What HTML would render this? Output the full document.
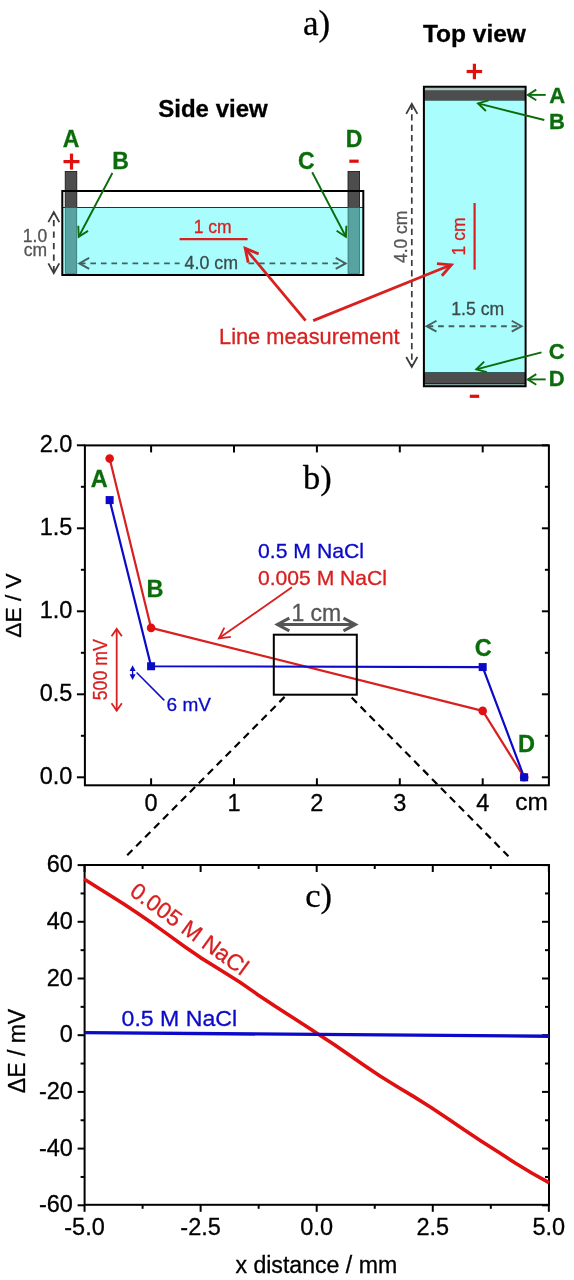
<!DOCTYPE html>
<html><head><meta charset="utf-8"><style>
html,body{margin:0;padding:0;background:#fff;}
svg{display:block;will-change:transform;}
</style></head><body>
<svg width="574" height="1280" viewBox="0 0 574 1280">
<rect width="574" height="1280" fill="#fff"/>
<text x="303.00" y="34.80" font-family="Liberation Serif, serif" font-size="35" font-weight="normal" fill="#000" text-anchor="start" stroke="#000" stroke-width="0.3">a)</text>
<text x="213.00" y="116.70" font-family="Liberation Sans, sans-serif" font-size="23.5" font-weight="bold" fill="#000" text-anchor="middle" textLength="109.5" lengthAdjust="spacingAndGlyphs" stroke="#000" stroke-width="0.3">Side view</text>
<text x="474.40" y="41.80" font-family="Liberation Sans, sans-serif" font-size="23.5" font-weight="bold" fill="#000" text-anchor="middle" textLength="103" lengthAdjust="spacingAndGlyphs" stroke="#000" stroke-width="0.3">Top view</text>
<rect x="62.3" y="191" width="301" height="83.7" fill="#fff" stroke="none"/>
<rect x="63" y="207.5" width="300" height="67" fill="#aafdfd"/>
<line x1="63.00" y1="207.50" x2="363.00" y2="207.50" stroke="#0a3c3c" stroke-width="1" />
<rect x="65.2" y="171.5" width="11.6" height="36" fill="#4d4d4d" stroke="#111" stroke-width="0.8"/>
<rect x="65.2" y="207.5" width="11.6" height="66" fill="#58a2a2" stroke="#2a5a5a" stroke-width="0.6"/>
<rect x="348.0" y="171.5" width="11.6" height="36" fill="#4d4d4d" stroke="#111" stroke-width="0.8"/>
<rect x="348.0" y="207.5" width="11.6" height="66" fill="#58a2a2" stroke="#2a5a5a" stroke-width="0.6"/>
<rect x="62.3" y="191" width="301" height="84" fill="none" stroke="#000" stroke-width="2"/>
<text x="71.00" y="146.80" font-family="Liberation Sans, sans-serif" font-size="23" font-weight="bold" fill="#0a6c0a" text-anchor="middle" stroke="#0a6c0a" stroke-width="0.3" >A</text>
<text x="354.00" y="146.80" font-family="Liberation Sans, sans-serif" font-size="23" font-weight="bold" fill="#0a6c0a" text-anchor="middle" stroke="#0a6c0a" stroke-width="0.3" >D</text>
<rect x="63.50" y="160.00" width="16" height="3.2" fill="#e01010"/>
<rect x="69.90" y="153.60" width="3.2" height="16" fill="#e01010"/>
<rect x="349.3" y="159.6" width="9.4" height="3.2" fill="#e01010"/>
<text x="120.50" y="168.70" font-family="Liberation Sans, sans-serif" font-size="23" font-weight="bold" fill="#0a6c0a" text-anchor="middle" stroke="#0a6c0a" stroke-width="0.3" >B</text>
<text x="306.20" y="169.00" font-family="Liberation Sans, sans-serif" font-size="23" font-weight="bold" fill="#0a6c0a" text-anchor="middle" stroke="#0a6c0a" stroke-width="0.3" >C</text>
<line x1="112.40" y1="173.00" x2="78.70" y2="236.70" stroke="#0a6c0a" stroke-width="1.9" />
<polyline points="88.02,230.85 78.70,236.70 78.29,225.71" fill="none" stroke="#0a6c0a" stroke-width="1.9" stroke-linejoin="miter" stroke-linecap="butt"/>
<line x1="312.20" y1="172.20" x2="345.90" y2="236.70" stroke="#0a6c0a" stroke-width="1.9" />
<polyline points="346.36,225.71 345.90,236.70 336.61,230.80" fill="none" stroke="#0a6c0a" stroke-width="1.9" stroke-linejoin="miter" stroke-linecap="butt"/>
<line x1="53.80" y1="212.00" x2="53.80" y2="273.00" stroke="#3c3c3c" stroke-width="1.8" stroke-dasharray="6.3,5.2" stroke-dashoffset="3.6"/>
<polyline points="48.32,222.08 53.80,212.20 59.28,222.08" fill="none" stroke="#3c3c3c" stroke-width="1.8" stroke-linejoin="miter" stroke-linecap="butt"/>
<polyline points="59.28,263.32 53.80,273.20 48.32,263.32" fill="none" stroke="#3c3c3c" stroke-width="1.8" stroke-linejoin="miter" stroke-linecap="butt"/>
<text x="35.00" y="241.90" font-family="Liberation Sans, sans-serif" font-size="17.5" font-weight="normal" fill="#555555" text-anchor="middle" stroke="#555555" stroke-width="0.3" >1.0</text>
<text x="35.40" y="255.70" font-family="Liberation Sans, sans-serif" font-size="17.5" font-weight="normal" fill="#555555" text-anchor="middle" stroke="#555555" stroke-width="0.3" >cm</text>
<line x1="79.80" y1="263.40" x2="346.00" y2="263.40" stroke="#466060" stroke-width="1.9" stroke-dasharray="5.7,4.84"/>
<rect x="179.6" y="258" width="68" height="10" fill="#aafdfd"/>
<polyline points="89.18,268.88 79.30,263.40 89.18,257.92" fill="none" stroke="#466060" stroke-width="1.9" stroke-linejoin="miter" stroke-linecap="butt"/>
<polyline points="335.72,257.92 345.60,263.40 335.72,268.88" fill="none" stroke="#466060" stroke-width="1.9" stroke-linejoin="miter" stroke-linecap="butt"/>
<text x="211.30" y="269.10" font-family="Liberation Sans, sans-serif" font-size="17.8" font-weight="normal" fill="#3a4c4c" text-anchor="middle" stroke="#3a4c4c" stroke-width="0.3" >4.0 cm</text>
<text x="212.70" y="232.70" font-family="Liberation Sans, sans-serif" font-size="17.5" font-weight="normal" fill="#d82020" text-anchor="middle" stroke="#d82020" stroke-width="0.3" >1 cm</text>
<line x1="179.60" y1="239.20" x2="247.60" y2="239.20" stroke="#d82020" stroke-width="2.2" />
<rect x="423.9" y="86.75" width="101.7" height="299.5" fill="#aafdfd" stroke="none"/>
<rect x="423.9" y="87.5" width="101.7" height="3" fill="#a8c4be"/>
<rect x="423.9" y="90.2" width="101.7" height="9.6" fill="#4d4d4d"/>
<line x1="423.90" y1="100.10" x2="525.60" y2="100.10" stroke="#1a2a2a" stroke-width="1" />
<line x1="423.90" y1="373.00" x2="525.60" y2="373.00" stroke="#0e2424" stroke-width="1.4" />
<rect x="423.9" y="373.7" width="101.7" height="9.5" fill="#4d4d4d"/>
<line x1="423.90" y1="383.50" x2="525.60" y2="383.50" stroke="#1a2a2a" stroke-width="1" />
<rect x="423.9" y="384" width="101.7" height="1.8" fill="#7c9c98"/>
<rect x="423.9" y="86.75" width="101.7" height="299.5" fill="none" stroke="#000" stroke-width="2"/>
<rect x="466.65" y="69.90" width="15.5" height="3.2" fill="#e01010"/>
<rect x="472.80" y="63.75" width="3.2" height="15.5" fill="#e01010"/>
<rect x="469.8" y="394.7" width="9.4" height="3.2" fill="#e01010"/>
<text x="557.30" y="102.90" font-family="Liberation Sans, sans-serif" font-size="22" font-weight="bold" fill="#0a6c0a" text-anchor="middle" stroke="#0a6c0a" stroke-width="0.3" >A</text>
<text x="557.00" y="128.60" font-family="Liberation Sans, sans-serif" font-size="22" font-weight="bold" fill="#0a6c0a" text-anchor="middle" stroke="#0a6c0a" stroke-width="0.3" >B</text>
<text x="556.80" y="358.50" font-family="Liberation Sans, sans-serif" font-size="22" font-weight="bold" fill="#0a6c0a" text-anchor="middle" stroke="#0a6c0a" stroke-width="0.3" >C</text>
<text x="556.80" y="386.00" font-family="Liberation Sans, sans-serif" font-size="22" font-weight="bold" fill="#0a6c0a" text-anchor="middle" stroke="#0a6c0a" stroke-width="0.3" >D</text>
<line x1="545.70" y1="94.90" x2="527.80" y2="94.90" stroke="#0a6c0a" stroke-width="1.9" />
<polyline points="536.28,100.20 527.80,94.90 536.28,89.60" fill="none" stroke="#0a6c0a" stroke-width="1.9" stroke-linejoin="miter" stroke-linecap="butt"/>
<line x1="544.30" y1="120.00" x2="478.00" y2="103.40" stroke="#0a6c0a" stroke-width="1.9" />
<polyline points="485.91,111.05 478.00,103.40 488.58,100.38" fill="none" stroke="#0a6c0a" stroke-width="1.9" stroke-linejoin="miter" stroke-linecap="butt"/>
<line x1="541.50" y1="352.40" x2="476.30" y2="369.30" stroke="#0a6c0a" stroke-width="1.9" />
<polyline points="486.90,372.23 476.30,369.30 484.14,361.59" fill="none" stroke="#0a6c0a" stroke-width="1.9" stroke-linejoin="miter" stroke-linecap="butt"/>
<line x1="545.70" y1="379.40" x2="527.80" y2="379.40" stroke="#0a6c0a" stroke-width="1.9" />
<polyline points="536.28,384.70 527.80,379.40 536.28,374.10" fill="none" stroke="#0a6c0a" stroke-width="1.9" stroke-linejoin="miter" stroke-linecap="butt"/>
<line x1="411.80" y1="103.90" x2="411.80" y2="367.00" stroke="#3c3c3c" stroke-width="1.7" stroke-dasharray="6.2,4.2"/>
<polyline points="406.22,113.86 411.80,103.80 417.38,113.86" fill="none" stroke="#3c3c3c" stroke-width="1.8" stroke-linejoin="miter" stroke-linecap="butt"/>
<polyline points="417.38,356.94 411.80,367.00 406.22,356.94" fill="none" stroke="#3c3c3c" stroke-width="1.8" stroke-linejoin="miter" stroke-linecap="butt"/>
<text x="0.00" y="0.00" font-family="Liberation Sans, sans-serif" font-size="17.5" font-weight="normal" fill="#555555" text-anchor="middle" stroke="#555555" stroke-width="0.3" transform="translate(406.6,236.8) rotate(-90)">4.0 cm</text>
<line x1="474.60" y1="203.00" x2="474.60" y2="269.60" stroke="#d82020" stroke-width="2.2" />
<text x="0.00" y="0.00" font-family="Liberation Sans, sans-serif" font-size="17.5" font-weight="normal" fill="#d82020" text-anchor="middle" stroke="#d82020" stroke-width="0.3" transform="translate(465.3,236.5) rotate(-90)">1 cm</text>
<line x1="427.60" y1="326.20" x2="522.00" y2="326.20" stroke="#466060" stroke-width="1.9" stroke-dasharray="5.7,4.8"/>
<polyline points="436.48,331.68 426.60,326.20 436.48,320.72" fill="none" stroke="#466060" stroke-width="1.9" stroke-linejoin="miter" stroke-linecap="butt"/>
<polyline points="511.72,320.72 521.60,326.20 511.72,331.68" fill="none" stroke="#466060" stroke-width="1.9" stroke-linejoin="miter" stroke-linecap="butt"/>
<text x="477.70" y="315.30" font-family="Liberation Sans, sans-serif" font-size="17.6" font-weight="normal" fill="#3e4a4a" text-anchor="middle" stroke="#3e4a4a" stroke-width="0.3" >1.5 cm</text>
<text x="309.30" y="343.60" font-family="Liberation Sans, sans-serif" font-size="21.8" font-weight="normal" fill="#d82020" text-anchor="middle" stroke="#d82020" stroke-width="0.3" >Line measurement</text>
<line x1="305.60" y1="320.60" x2="245.20" y2="248.40" stroke="#d82020" stroke-width="2.8" />
<polyline points="248.19,262.59 245.20,248.40 258.64,253.85" fill="none" stroke="#d82020" stroke-width="2.8" stroke-linejoin="miter" stroke-linecap="butt"/>
<line x1="313.20" y1="320.60" x2="451.40" y2="264.80" stroke="#d82020" stroke-width="2.8" />
<polyline points="436.96,263.53 451.40,264.80 441.88,275.74" fill="none" stroke="#d82020" stroke-width="2.8" stroke-linejoin="miter" stroke-linecap="butt"/>
<line x1="76.90" y1="777.30" x2="84.90" y2="777.30" stroke="#000" stroke-width="2" />
<line x1="541.90" y1="777.30" x2="548.90" y2="777.30" stroke="#000" stroke-width="2" />
<text x="72.40" y="784.00" font-family="Liberation Sans, sans-serif" font-size="23.5" font-weight="normal" fill="#000" text-anchor="end" stroke="#000" stroke-width="0.3" >0.0</text>
<line x1="80.90" y1="735.80" x2="84.90" y2="735.80" stroke="#000" stroke-width="2" />
<line x1="544.90" y1="735.80" x2="548.90" y2="735.80" stroke="#000" stroke-width="2" />
<line x1="76.90" y1="694.30" x2="84.90" y2="694.30" stroke="#000" stroke-width="2" />
<line x1="541.90" y1="694.30" x2="548.90" y2="694.30" stroke="#000" stroke-width="2" />
<text x="72.40" y="701.00" font-family="Liberation Sans, sans-serif" font-size="23.5" font-weight="normal" fill="#000" text-anchor="end" stroke="#000" stroke-width="0.3" >0.5</text>
<line x1="80.90" y1="652.80" x2="84.90" y2="652.80" stroke="#000" stroke-width="2" />
<line x1="544.90" y1="652.80" x2="548.90" y2="652.80" stroke="#000" stroke-width="2" />
<line x1="76.90" y1="611.30" x2="84.90" y2="611.30" stroke="#000" stroke-width="2" />
<line x1="541.90" y1="611.30" x2="548.90" y2="611.30" stroke="#000" stroke-width="2" />
<text x="72.40" y="618.00" font-family="Liberation Sans, sans-serif" font-size="23.5" font-weight="normal" fill="#000" text-anchor="end" stroke="#000" stroke-width="0.3" >1.0</text>
<line x1="80.90" y1="569.80" x2="84.90" y2="569.80" stroke="#000" stroke-width="2" />
<line x1="544.90" y1="569.80" x2="548.90" y2="569.80" stroke="#000" stroke-width="2" />
<line x1="76.90" y1="528.30" x2="84.90" y2="528.30" stroke="#000" stroke-width="2" />
<line x1="541.90" y1="528.30" x2="548.90" y2="528.30" stroke="#000" stroke-width="2" />
<text x="72.40" y="535.00" font-family="Liberation Sans, sans-serif" font-size="23.5" font-weight="normal" fill="#000" text-anchor="end" stroke="#000" stroke-width="0.3" >1.5</text>
<line x1="80.90" y1="486.80" x2="84.90" y2="486.80" stroke="#000" stroke-width="2" />
<line x1="544.90" y1="486.80" x2="548.90" y2="486.80" stroke="#000" stroke-width="2" />
<line x1="76.90" y1="445.30" x2="84.90" y2="445.30" stroke="#000" stroke-width="2" />
<line x1="541.90" y1="445.30" x2="548.90" y2="445.30" stroke="#000" stroke-width="2" />
<text x="72.40" y="452.00" font-family="Liberation Sans, sans-serif" font-size="23.5" font-weight="normal" fill="#000" text-anchor="end" stroke="#000" stroke-width="0.3" >2.0</text>
<line x1="151.10" y1="778.30" x2="151.10" y2="785.30" stroke="#000" stroke-width="2" />
<line x1="151.10" y1="445.40" x2="151.10" y2="452.40" stroke="#000" stroke-width="2" />
<text x="151.10" y="810.60" font-family="Liberation Sans, sans-serif" font-size="23.5" font-weight="normal" fill="#000" text-anchor="middle" stroke="#000" stroke-width="0.3" >0</text>
<line x1="234.00" y1="778.30" x2="234.00" y2="785.30" stroke="#000" stroke-width="2" />
<line x1="234.00" y1="445.40" x2="234.00" y2="452.40" stroke="#000" stroke-width="2" />
<text x="234.00" y="810.60" font-family="Liberation Sans, sans-serif" font-size="23.5" font-weight="normal" fill="#000" text-anchor="middle" stroke="#000" stroke-width="0.3" >1</text>
<line x1="316.90" y1="778.30" x2="316.90" y2="785.30" stroke="#000" stroke-width="2" />
<line x1="316.90" y1="445.40" x2="316.90" y2="452.40" stroke="#000" stroke-width="2" />
<text x="316.90" y="810.60" font-family="Liberation Sans, sans-serif" font-size="23.5" font-weight="normal" fill="#000" text-anchor="middle" stroke="#000" stroke-width="0.3" >2</text>
<line x1="399.80" y1="778.30" x2="399.80" y2="785.30" stroke="#000" stroke-width="2" />
<line x1="399.80" y1="445.40" x2="399.80" y2="452.40" stroke="#000" stroke-width="2" />
<text x="399.80" y="810.60" font-family="Liberation Sans, sans-serif" font-size="23.5" font-weight="normal" fill="#000" text-anchor="middle" stroke="#000" stroke-width="0.3" >3</text>
<line x1="482.70" y1="778.30" x2="482.70" y2="785.30" stroke="#000" stroke-width="2" />
<line x1="482.70" y1="445.40" x2="482.70" y2="452.40" stroke="#000" stroke-width="2" />
<text x="482.70" y="810.60" font-family="Liberation Sans, sans-serif" font-size="23.5" font-weight="normal" fill="#000" text-anchor="middle" stroke="#000" stroke-width="0.3" >4</text>
<text x="531.50" y="810.40" font-family="Liberation Sans, sans-serif" font-size="24.5" font-weight="normal" fill="#000" text-anchor="middle" stroke="#000" stroke-width="0.3" >cm</text>
<rect x="84.9" y="445.4" width="464.0" height="339.9" fill="none" stroke="#000" stroke-width="2"/>
<text x="0.00" y="0.00" font-family="Liberation Sans, sans-serif" font-size="22.8" font-weight="normal" fill="#000" text-anchor="middle" stroke="#000" stroke-width="0.3" transform="translate(20.6,605.5) rotate(-90)">ΔE / V</text>
<text x="303.00" y="489.00" font-family="Liberation Serif, serif" font-size="34.5" font-weight="normal" fill="#000" text-anchor="start" stroke="#000" stroke-width="0.3">b)</text>
<polyline points="109.65,458.58 151.10,627.90 482.70,710.90 524.15,777.30" fill="none" stroke="#d82020" stroke-width="2.2" stroke-linejoin="round"/>
<polyline points="109.65,500.08 151.10,666.25 482.70,667.08 524.15,777.30" fill="none" stroke="#0a0ac8" stroke-width="2.2" stroke-linejoin="round"/>
<circle cx="109.65" cy="458.58" r="4.3" fill="#e01010"/>
<circle cx="151.10" cy="627.90" r="4.3" fill="#e01010"/>
<circle cx="482.70" cy="710.90" r="4.3" fill="#e01010"/>
<circle cx="524.15" cy="777.30" r="4.3" fill="#e01010"/>
<rect x="105.65" y="496.08" width="8" height="8" fill="#0a0ac8"/>
<rect x="147.10" y="662.25" width="8" height="8" fill="#0a0ac8"/>
<rect x="478.70" y="663.08" width="8" height="8" fill="#0a0ac8"/>
<rect x="520.15" y="773.30" width="8" height="8" fill="#0a0ac8"/>
<text x="99.30" y="487.40" font-family="Liberation Sans, sans-serif" font-size="23.5" font-weight="bold" fill="#0a6c0a" text-anchor="middle" stroke="#0a6c0a" stroke-width="0.3" >A</text>
<text x="154.90" y="597.00" font-family="Liberation Sans, sans-serif" font-size="23.5" font-weight="bold" fill="#0a6c0a" text-anchor="middle" stroke="#0a6c0a" stroke-width="0.3" >B</text>
<text x="483.20" y="655.50" font-family="Liberation Sans, sans-serif" font-size="23.5" font-weight="bold" fill="#0a6c0a" text-anchor="middle" stroke="#0a6c0a" stroke-width="0.3" >C</text>
<text x="526.60" y="752.40" font-family="Liberation Sans, sans-serif" font-size="23.5" font-weight="bold" fill="#0a6c0a" text-anchor="middle" stroke="#0a6c0a" stroke-width="0.3" >D</text>
<text x="258.00" y="558.00" font-family="Liberation Sans, sans-serif" font-size="20.4" font-weight="normal" fill="#0a0ac8" text-anchor="start" stroke="#0a0ac8" stroke-width="0.3" textLength="106" lengthAdjust="spacingAndGlyphs">0.5 M NaCl</text>
<text x="258.00" y="584.90" font-family="Liberation Sans, sans-serif" font-size="20.4" font-weight="normal" fill="#d82020" text-anchor="start" stroke="#d82020" stroke-width="0.3" textLength="129" lengthAdjust="spacingAndGlyphs">0.005 M NaCl</text>
<line x1="291.90" y1="587.30" x2="218.90" y2="638.30" stroke="#d82020" stroke-width="1.8" />
<polyline points="230.81,636.85 218.90,638.30 224.36,627.61" fill="none" stroke="#d82020" stroke-width="1.8" stroke-linejoin="miter" stroke-linecap="butt"/>
<rect x="273.8" y="634.7" width="83" height="60" fill="none" stroke="#000" stroke-width="2"/>
<line x1="316.00" y1="624.50" x2="355.40" y2="624.50" stroke="#555555" stroke-width="3" />
<polyline points="343.48,618.16 355.40,624.50 343.48,630.84" fill="none" stroke="#555555" stroke-width="3" stroke-linejoin="miter" stroke-linecap="butt"/>
<line x1="316.00" y1="624.50" x2="277.40" y2="624.50" stroke="#555555" stroke-width="3" />
<polyline points="289.32,630.84 277.40,624.50 289.32,618.16" fill="none" stroke="#555555" stroke-width="3" stroke-linejoin="miter" stroke-linecap="butt"/>
<text x="316.30" y="620.60" font-family="Liberation Sans, sans-serif" font-size="23" font-weight="normal" fill="#555555" text-anchor="middle" stroke="#555555" stroke-width="0.3" >1 cm</text>
<line x1="116.70" y1="670.00" x2="116.70" y2="628.90" stroke="#d82020" stroke-width="1.8" />
<polyline points="111.54,636.27 116.70,628.90 121.86,636.27" fill="none" stroke="#d82020" stroke-width="1.8" stroke-linejoin="miter" stroke-linecap="butt"/>
<line x1="116.70" y1="670.00" x2="116.70" y2="710.70" stroke="#d82020" stroke-width="1.8" />
<polyline points="121.86,703.33 116.70,710.70 111.54,703.33" fill="none" stroke="#d82020" stroke-width="1.8" stroke-linejoin="miter" stroke-linecap="butt"/>
<text x="0.00" y="0.00" font-family="Liberation Sans, sans-serif" font-size="19.5" font-weight="normal" fill="#d82020" text-anchor="middle" stroke="#d82020" stroke-width="0.3" transform="translate(106.6,669.8) rotate(-90)" textLength="61" lengthAdjust="spacingAndGlyphs">500 mV</text>
<line x1="132.60" y1="668.00" x2="132.60" y2="677.00" stroke="#0a0ac8" stroke-width="1.3" />
<polygon points="132.6,665.3 129.6,671 135.6,671" fill="#0a0ac8"/>
<polygon points="132.6,680 129.6,674.3 135.6,674.3" fill="#0a0ac8"/>
<line x1="136.60" y1="672.50" x2="164.30" y2="700.40" stroke="#0a0ac8" stroke-width="1.5" />
<text x="166.60" y="710.60" font-family="Liberation Sans, sans-serif" font-size="19" font-weight="normal" fill="#0a0ac8" text-anchor="start" stroke="#0a0ac8" stroke-width="0.3" >6 mV</text>
<line x1="284.60" y1="696.90" x2="126.30" y2="856.20" stroke="#000" stroke-width="2.2" stroke-dasharray="7.4,5.3"/>
<line x1="351.70" y1="697.60" x2="508.40" y2="856.20" stroke="#000" stroke-width="2.2" stroke-dasharray="7.4,5.3"/>
<line x1="77.60" y1="1205.30" x2="84.60" y2="1205.30" stroke="#000" stroke-width="2" />
<line x1="542.00" y1="1205.30" x2="549.00" y2="1205.30" stroke="#000" stroke-width="2" />
<text x="72.90" y="1212.30" font-family="Liberation Sans, sans-serif" font-size="23.5" font-weight="normal" fill="#000" text-anchor="end" stroke="#000" stroke-width="0.3" >-60</text>
<line x1="80.60" y1="1176.95" x2="84.60" y2="1176.95" stroke="#000" stroke-width="2" />
<line x1="545.00" y1="1176.95" x2="549.00" y2="1176.95" stroke="#000" stroke-width="2" />
<line x1="77.60" y1="1148.60" x2="84.60" y2="1148.60" stroke="#000" stroke-width="2" />
<line x1="542.00" y1="1148.60" x2="549.00" y2="1148.60" stroke="#000" stroke-width="2" />
<text x="72.90" y="1155.60" font-family="Liberation Sans, sans-serif" font-size="23.5" font-weight="normal" fill="#000" text-anchor="end" stroke="#000" stroke-width="0.3" >-40</text>
<line x1="80.60" y1="1120.25" x2="84.60" y2="1120.25" stroke="#000" stroke-width="2" />
<line x1="545.00" y1="1120.25" x2="549.00" y2="1120.25" stroke="#000" stroke-width="2" />
<line x1="77.60" y1="1091.90" x2="84.60" y2="1091.90" stroke="#000" stroke-width="2" />
<line x1="542.00" y1="1091.90" x2="549.00" y2="1091.90" stroke="#000" stroke-width="2" />
<text x="72.90" y="1098.90" font-family="Liberation Sans, sans-serif" font-size="23.5" font-weight="normal" fill="#000" text-anchor="end" stroke="#000" stroke-width="0.3" >-20</text>
<line x1="80.60" y1="1063.55" x2="84.60" y2="1063.55" stroke="#000" stroke-width="2" />
<line x1="545.00" y1="1063.55" x2="549.00" y2="1063.55" stroke="#000" stroke-width="2" />
<line x1="77.60" y1="1035.20" x2="84.60" y2="1035.20" stroke="#000" stroke-width="2" />
<line x1="542.00" y1="1035.20" x2="549.00" y2="1035.20" stroke="#000" stroke-width="2" />
<text x="72.90" y="1042.20" font-family="Liberation Sans, sans-serif" font-size="23.5" font-weight="normal" fill="#000" text-anchor="end" stroke="#000" stroke-width="0.3" >0</text>
<line x1="80.60" y1="1006.85" x2="84.60" y2="1006.85" stroke="#000" stroke-width="2" />
<line x1="545.00" y1="1006.85" x2="549.00" y2="1006.85" stroke="#000" stroke-width="2" />
<line x1="77.60" y1="978.50" x2="84.60" y2="978.50" stroke="#000" stroke-width="2" />
<line x1="542.00" y1="978.50" x2="549.00" y2="978.50" stroke="#000" stroke-width="2" />
<text x="72.90" y="985.50" font-family="Liberation Sans, sans-serif" font-size="23.5" font-weight="normal" fill="#000" text-anchor="end" stroke="#000" stroke-width="0.3" >20</text>
<line x1="80.60" y1="950.15" x2="84.60" y2="950.15" stroke="#000" stroke-width="2" />
<line x1="545.00" y1="950.15" x2="549.00" y2="950.15" stroke="#000" stroke-width="2" />
<line x1="77.60" y1="921.80" x2="84.60" y2="921.80" stroke="#000" stroke-width="2" />
<line x1="542.00" y1="921.80" x2="549.00" y2="921.80" stroke="#000" stroke-width="2" />
<text x="72.90" y="928.80" font-family="Liberation Sans, sans-serif" font-size="23.5" font-weight="normal" fill="#000" text-anchor="end" stroke="#000" stroke-width="0.3" >40</text>
<line x1="80.60" y1="893.45" x2="84.60" y2="893.45" stroke="#000" stroke-width="2" />
<line x1="545.00" y1="893.45" x2="549.00" y2="893.45" stroke="#000" stroke-width="2" />
<line x1="77.60" y1="865.10" x2="84.60" y2="865.10" stroke="#000" stroke-width="2" />
<line x1="542.00" y1="865.10" x2="549.00" y2="865.10" stroke="#000" stroke-width="2" />
<text x="72.90" y="872.10" font-family="Liberation Sans, sans-serif" font-size="23.5" font-weight="normal" fill="#000" text-anchor="end" stroke="#000" stroke-width="0.3" >60</text>
<line x1="84.55" y1="1204.80" x2="84.55" y2="1211.80" stroke="#000" stroke-width="2" />
<line x1="84.55" y1="865.00" x2="84.55" y2="872.00" stroke="#000" stroke-width="2" />
<text x="84.55" y="1235.30" font-family="Liberation Sans, sans-serif" font-size="23.5" font-weight="normal" fill="#000" text-anchor="middle" stroke="#000" stroke-width="0.3" >-5.0</text>
<line x1="142.59" y1="1204.80" x2="142.59" y2="1208.80" stroke="#000" stroke-width="2" />
<line x1="142.59" y1="865.00" x2="142.59" y2="869.00" stroke="#000" stroke-width="2" />
<line x1="200.62" y1="1204.80" x2="200.62" y2="1211.80" stroke="#000" stroke-width="2" />
<line x1="200.62" y1="865.00" x2="200.62" y2="872.00" stroke="#000" stroke-width="2" />
<text x="200.62" y="1235.30" font-family="Liberation Sans, sans-serif" font-size="23.5" font-weight="normal" fill="#000" text-anchor="middle" stroke="#000" stroke-width="0.3" >-2.5</text>
<line x1="258.66" y1="1204.80" x2="258.66" y2="1208.80" stroke="#000" stroke-width="2" />
<line x1="258.66" y1="865.00" x2="258.66" y2="869.00" stroke="#000" stroke-width="2" />
<line x1="316.70" y1="1204.80" x2="316.70" y2="1211.80" stroke="#000" stroke-width="2" />
<line x1="316.70" y1="865.00" x2="316.70" y2="872.00" stroke="#000" stroke-width="2" />
<text x="316.70" y="1235.30" font-family="Liberation Sans, sans-serif" font-size="23.5" font-weight="normal" fill="#000" text-anchor="middle" stroke="#000" stroke-width="0.3" >0.0</text>
<line x1="374.74" y1="1204.80" x2="374.74" y2="1208.80" stroke="#000" stroke-width="2" />
<line x1="374.74" y1="865.00" x2="374.74" y2="869.00" stroke="#000" stroke-width="2" />
<line x1="432.77" y1="1204.80" x2="432.77" y2="1211.80" stroke="#000" stroke-width="2" />
<line x1="432.77" y1="865.00" x2="432.77" y2="872.00" stroke="#000" stroke-width="2" />
<text x="432.77" y="1235.30" font-family="Liberation Sans, sans-serif" font-size="23.5" font-weight="normal" fill="#000" text-anchor="middle" stroke="#000" stroke-width="0.3" >2.5</text>
<line x1="490.81" y1="1204.80" x2="490.81" y2="1208.80" stroke="#000" stroke-width="2" />
<line x1="490.81" y1="865.00" x2="490.81" y2="869.00" stroke="#000" stroke-width="2" />
<line x1="548.85" y1="1204.80" x2="548.85" y2="1211.80" stroke="#000" stroke-width="2" />
<line x1="548.85" y1="865.00" x2="548.85" y2="872.00" stroke="#000" stroke-width="2" />
<text x="548.85" y="1235.30" font-family="Liberation Sans, sans-serif" font-size="23.5" font-weight="normal" fill="#000" text-anchor="middle" stroke="#000" stroke-width="0.3" >5.0</text>
<rect x="84.6" y="865" width="464.4" height="339.79999999999995" fill="none" stroke="#000" stroke-width="2"/>
<text x="316.30" y="1273.40" font-family="Liberation Sans, sans-serif" font-size="23.1" font-weight="normal" fill="#000" text-anchor="middle" stroke="#000" stroke-width="0.3" >x distance / mm</text>
<text x="0.00" y="0.00" font-family="Liberation Sans, sans-serif" font-size="23" font-weight="normal" fill="#000" text-anchor="middle" stroke="#000" stroke-width="0.3" transform="translate(25.1,1051) rotate(-90)">ΔE / mV</text>
<text x="305.30" y="906.70" font-family="Liberation Serif, serif" font-size="34.5" font-weight="normal" fill="#000" text-anchor="start" stroke="#000" stroke-width="0.3">c)</text>
<polyline points="84.1,879.1 95.9,886.6 109.9,895.3 123.8,904.1 137.7,913.3 150.8,922.3 167.4,934.1 184.8,946.7 200.5,957.6 219.7,969.5 240.0,982.3 257.4,994.4 274.8,1006.1 292.3,1017.3 309.7,1028.6 318.4,1034.2 334.1,1044.4 365.5,1066.3 380.0,1076.0 396.9,1086.5 413.8,1096.6 430.7,1107.2 447.6,1118.4 464.5,1130.1 481.4,1141.2 498.3,1152.0 515.2,1163.0 532.1,1173.2 549.0,1182.6" fill="none" stroke="#e01010" stroke-width="3.6" stroke-linejoin="round"/>
<line x1="84.6" y1="1032.6" x2="549" y2="1036.2" stroke="#0a0ac8" stroke-width="3.4"/>
<text x="121.60" y="1025.60" font-family="Liberation Sans, sans-serif" font-size="22.2" font-weight="normal" fill="#0a0ac8" text-anchor="start" stroke="#0a0ac8" stroke-width="0.3" textLength="115.5" lengthAdjust="spacingAndGlyphs">0.5 M NaCl</text>
<text x="0.00" y="0.00" font-family="Liberation Sans, sans-serif" font-size="22.8" font-weight="normal" fill="#d82020" text-anchor="start" stroke="#d82020" stroke-width="0.3" transform="translate(128.5,894.3) rotate(36)">0.005 M NaCl</text>
</svg>
</body></html>
